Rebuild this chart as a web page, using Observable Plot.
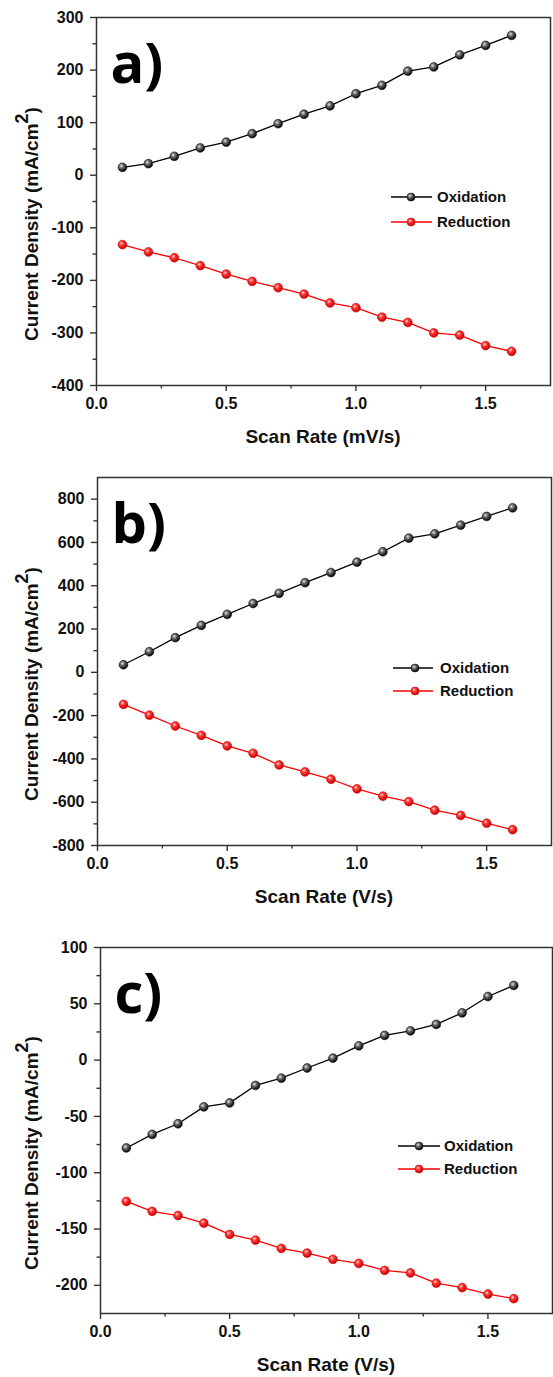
<!DOCTYPE html>
<html>
<head>
<meta charset="utf-8">
<script src="https://cdn.jsdelivr.net/npm/d3@7"></script>
<script src="https://cdn.jsdelivr.net/npm/@observablehq/plot@0.6"></script>
<style>
  html, body { margin: 0; padding: 0; background: #fff; }
  #chart svg { display: block; }
</style>
</head>
<body>
<svg width="0" height="0" style="position:absolute">
  <defs>
    <radialGradient id="sphereBlack" cx="38%" cy="35%" r="65%">
      <stop offset="0%" stop-color="#e8e8e8"/>
      <stop offset="35%" stop-color="#707070"/>
      <stop offset="100%" stop-color="#000"/>
    </radialGradient>
    <radialGradient id="sphereRed" cx="38%" cy="35%" r="65%">
      <stop offset="0%" stop-color="#ffe0e0"/>
      <stop offset="35%" stop-color="#ff3a3a"/>
      <stop offset="100%" stop-color="#c80000"/>
    </radialGradient>
  </defs>
</svg>
<div id="chart"></div>
<script>
// ---------------- data ----------------
const scanRate = [0.1, 0.2, 0.3, 0.4, 0.5, 0.6, 0.7, 0.8, 0.9, 1.0, 1.1, 1.2, 1.3, 1.4, 1.5, 1.6];

const oxidationA = [15, 22, 36, 52, 63, 79, 98, 116, 132, 155, 171, 198, 206, 229, 247, 266];
const reductionA = [-132, -146, -157, -172, -188, -202, -214, -226, -243, -252, -270, -280, -300, -304, -324, -335];

const oxidationB = [35, 95, 160, 217, 268, 318, 365, 414, 461, 509, 557, 620, 640, 680, 720, 760];
const reductionB = [-148, -198, -248, -291, -340, -374, -428, -460, -494, -538, -572, -597, -637, -661, -697, -727];

const oxidationC = [-78, -66, -56.5, -41.5, -38, -22.5, -16, -7, 1.8, 12.7, 22, 26, 31.7, 42, 56.5, 66.3];
const reductionC = [-125.5, -134.3, -138, -144.7, -154.8, -159.8, -167.2, -171.3, -176.9, -180.5, -186.7, -189, -198, -202, -207.7, -211.8];

const xMajorTicks = [0, 0.5, 1.0, 1.5];
const xMinorTicks = [0.25, 0.75, 1.25];

const yMajorA = [-400, -300, -200, -100, 0, 100, 200, 300];
const yMinorA = [-350, -250, -150, -50, 50, 150, 250];
const yMajorB = [-800, -600, -400, -200, 0, 200, 400, 600, 800];
const yMinorB = [-700, -500, -300, -100, 100, 300, 500, 700];
const yMajorC = [-200, -150, -100, -50, 0, 50, 100];
const yMinorC = [-175, -125, -75, -25, 25, 75];

const seriesNames = ["Oxidation", "Reduction"];
const panelLabels = ["a)", "b)", "c)"];
const xTitles = ["Scan Rate (mV/s)", "Scan Rate (V/s)", "Scan Rate (V/s)"];
const yTitleMain = "Current Density (mA/cm";
const yTitleSup = "2";
const yTitleEnd = ")";

// ---------------- layout ----------------
const panels = [
  {label: panelLabels[0], xTitle: xTitles[0], ox: oxidationA, red: reductionA, yDomain: [-400, 300], yMajor: yMajorA, yMinor: yMinorA,
   height: 455, mt: 17, mb: 70, ml: 96, mr: 3,
   legend: {x1: 391, x2: 432, mx: 411, tx: 437, y: [197, 222]}},
  {label: panelLabels[1], xTitle: xTitles[1], ox: oxidationB, red: reductionB, yDomain: [-800, 900], yMajor: yMajorB, yMinor: yMinorB,
   height: 460, mt: 22, mb: 70, ml: 97, mr: 2,
   legend: {x1: 393, x2: 433, mx: 415, tx: 440, y: [213, 236]}},
  {label: panelLabels[2], xTitle: xTitles[2], ox: oxidationC, red: reductionC, yDomain: [-225, 100], yMajor: yMajorC, yMinor: yMinorC,
   height: 462, mt: 32, mb: 64, ml: 100, mr: 1,
   legend: {x1: 398, x2: 440, mx: 419, tx: 444, y: [231, 254]}}
];

const W = 553;
const axisColor = "#333";
const textColor = "#111";
const fontFam = "'Liberation Sans', Arial, sans-serif";

function makePanel(p) {
  const ox = scanRate.map((x, i) => ({x, y: p.ox[i]}));
  const red = scanRate.map((x, i) => ({x, y: p.red[i]}));
  const plot = Plot.plot({
    width: W,
    height: p.height,
    marginTop: p.mt,
    marginBottom: p.mb,
    marginLeft: p.ml,
    marginRight: p.mr,
    style: {fontFamily: fontFam, fontSize: "16px", fontWeight: "bold", color: textColor, background: "#fff", overflow: "visible"},
    x: {domain: [0, 1.75], label: null},
    y: {domain: p.yDomain, label: null},
    marks: [
      Plot.axisX(xMajorTicks, {tickSize: 6, tickPadding: 6, tickFormat: d3.format(".1f"), label: null, stroke: axisColor, strokeWidth: 1.4, fill: textColor}),
      Plot.axisX(xMinorTicks, {tickSize: 3.5, tickFormat: () => "", label: null, stroke: axisColor, strokeWidth: 1.4}),
      Plot.axisY(p.yMajor, {tickSize: 6, tickPadding: 7, tickFormat: d => String(d), label: null, stroke: axisColor, strokeWidth: 1.4, fill: textColor}),
      Plot.axisY(p.yMinor, {tickSize: 3.5, tickFormat: () => "", label: null, stroke: axisColor, strokeWidth: 1.4}),
      Plot.frame({stroke: axisColor, strokeWidth: 1.5}),
      Plot.line(ox, {x: "x", y: "y", stroke: "#000", strokeWidth: 1.3}),
      Plot.line(red, {x: "x", y: "y", stroke: "#ff0000", strokeWidth: 1.3}),
      Plot.dot(ox, {x: "x", y: "y", r: 4.4, fill: "url(#sphereBlack)", stroke: "#111", strokeWidth: 0.6}),
      Plot.dot(red, {x: "x", y: "y", r: 4.4, fill: "url(#sphereRed)", stroke: "#d00000", strokeWidth: 0.6}),
      Plot.text([p.label], {frameAnchor: "top-left", dx: 14, dy: 26, text: d => d, lineAnchor: "top", textAnchor: "start",
        fontSize: 56, fontWeight: 700, fontFamily: "'Open Sans', sans-serif", fill: "#000"})
    ]
  });

  const svg = d3.select(plot);
  const frameTop = p.mt, frameBottom = p.height - p.mb;
  const frameLeft = p.ml, frameRight = W - p.mr;

  // y title with superscript
  const yt = svg.append("text")
    .attr("transform", `translate(38,${(frameTop + frameBottom) / 2 + 23}) rotate(-90)`)
    .attr("text-anchor", "middle")
    .attr("font-family", fontFam).attr("font-weight", "bold").attr("font-size", 19).attr("fill", textColor);
  yt.append("tspan").text(yTitleMain);
  yt.append("tspan").attr("dy", -10).attr("font-size", 18).text(yTitleSup);
  yt.append("tspan").attr("dy", 10).text(yTitleEnd);

  // x title
  svg.append("text")
    .attr("x", (frameLeft + frameRight) / 2)
    .attr("y", frameBottom + 58)
    .attr("text-anchor", "middle")
    .attr("font-family", fontFam).attr("font-weight", "bold").attr("font-size", 19).attr("fill", textColor)
    .text(p.xTitle);

  // legend
  const L = p.legend;
  const styles = [
    {stroke: "#000", fill: "url(#sphereBlack)", dotStroke: "#111"},
    {stroke: "#ff0000", fill: "url(#sphereRed)", dotStroke: "#d00000"}
  ];
  seriesNames.forEach((name, i) => {
    const g = svg.append("g");
    g.append("line").attr("x1", L.x1).attr("x2", L.x2).attr("y1", L.y[i]).attr("y2", L.y[i])
      .attr("stroke", styles[i].stroke).attr("stroke-width", 1.3);
    g.append("circle").attr("cx", L.mx).attr("cy", L.y[i]).attr("r", 4)
      .attr("fill", styles[i].fill).attr("stroke", styles[i].dotStroke).attr("stroke-width", 0.6);
    g.append("text").attr("x", L.tx).attr("y", L.y[i]).attr("dy", "0.36em")
      .attr("text-anchor", "start")
      .attr("font-family", fontFam).attr("font-weight", "bold").attr("font-size", 15).attr("fill", textColor)
      .text(name);
  });
  return plot;
}

const container = document.getElementById("chart");
panels.forEach(p => container.appendChild(makePanel(p)));
</script>
</body>
</html>
